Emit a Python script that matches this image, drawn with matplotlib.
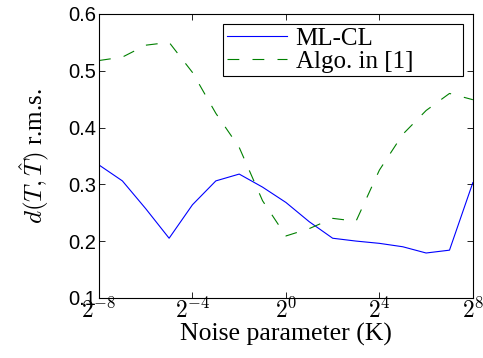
import numpy as np
import matplotlib
matplotlib.use("Agg")
import matplotlib.pyplot as plt

plt.rcParams['mathtext.fontset'] = 'cm'
plt.rcParams['lines.scale_dashes'] = False

# noise parameter exponents (K = 2^e)
exps = [-8, -7, -6, -5, -4, -3, -2, -1, 0, 1, 2, 3, 4, 5, 6, 7, 8]
ml_cl = [0.334, 0.306, 0.257, 0.205, 0.264, 0.306, 0.318, 0.295, 0.268,
         0.234, 0.205, 0.200, 0.196, 0.190, 0.179, 0.184, 0.303]
algo1 = [0.518, 0.524, 0.545, 0.550, 0.497, 0.425, 0.365, 0.271, 0.209,
         0.222, 0.240, 0.235, 0.325, 0.388, 0.430, 0.460, 0.449]
xticks = [-8, -4, 0, 4, 8]
yticks = [0.1, 0.2, 0.3, 0.4, 0.5, 0.6]

K = 2.0 ** np.array(exps)

fig = plt.figure(figsize=(4.83, 3.58), dpi=100)
ax = fig.add_axes([0.205, 0.168, 0.774, 0.793])

ax.plot(K, ml_cl, color='#0000ff', lw=0.8, label='ML-CL')
ax.plot(K, algo1, color='#008000', lw=0.8, linestyle=(0, (8.5, 9.5)),
        label='Algo. in [1]')

ax.set_xscale('log', base=2)
ax.set_xlim(2.0 ** -8, 2.0 ** 8)
ax.set_ylim(0.1, 0.6)
ax.set_xticks([2.0 ** e for e in xticks])
ax.set_xticklabels([r'$2^{%d}$' % e for e in xticks], fontsize=17)
ax.xaxis.set_minor_locator(matplotlib.ticker.NullLocator())
ax.set_yticks(yticks)
ax.set_yticklabels(['%.1f' % v for v in yticks], fontsize=14.5,
                   family='Liberation Sans')
ax.tick_params(direction='in', length=4, width=0.6, top=True, right=True)
ax.tick_params(axis='x', pad=0)
ax.tick_params(axis='y', pad=2)
for s in ax.spines.values():
    s.set_linewidth(0.8)

ax.set_xlabel('Noise parameter (K)', fontsize=18.5, family='Liberation Serif',
              labelpad=0)
ax.set_ylabel(r'$d(T,\hat{T})$ r.m.s.', fontsize=18, family='Liberation Serif',
              labelpad=12)

leg = ax.legend(loc='upper left', bbox_to_anchor=(0.332, 0.965, 0.641, 0.0),
                mode='expand', fancybox=False, edgecolor='black',
                framealpha=1, prop={'family': 'Liberation Serif', 'size': 18},
                handlelength=2.4, handletextpad=0.35, labelspacing=0.0,
                borderpad=0.15, borderaxespad=0)
leg.get_frame().set_linewidth(0.8)

fig.savefig('out.png', dpi=100)
